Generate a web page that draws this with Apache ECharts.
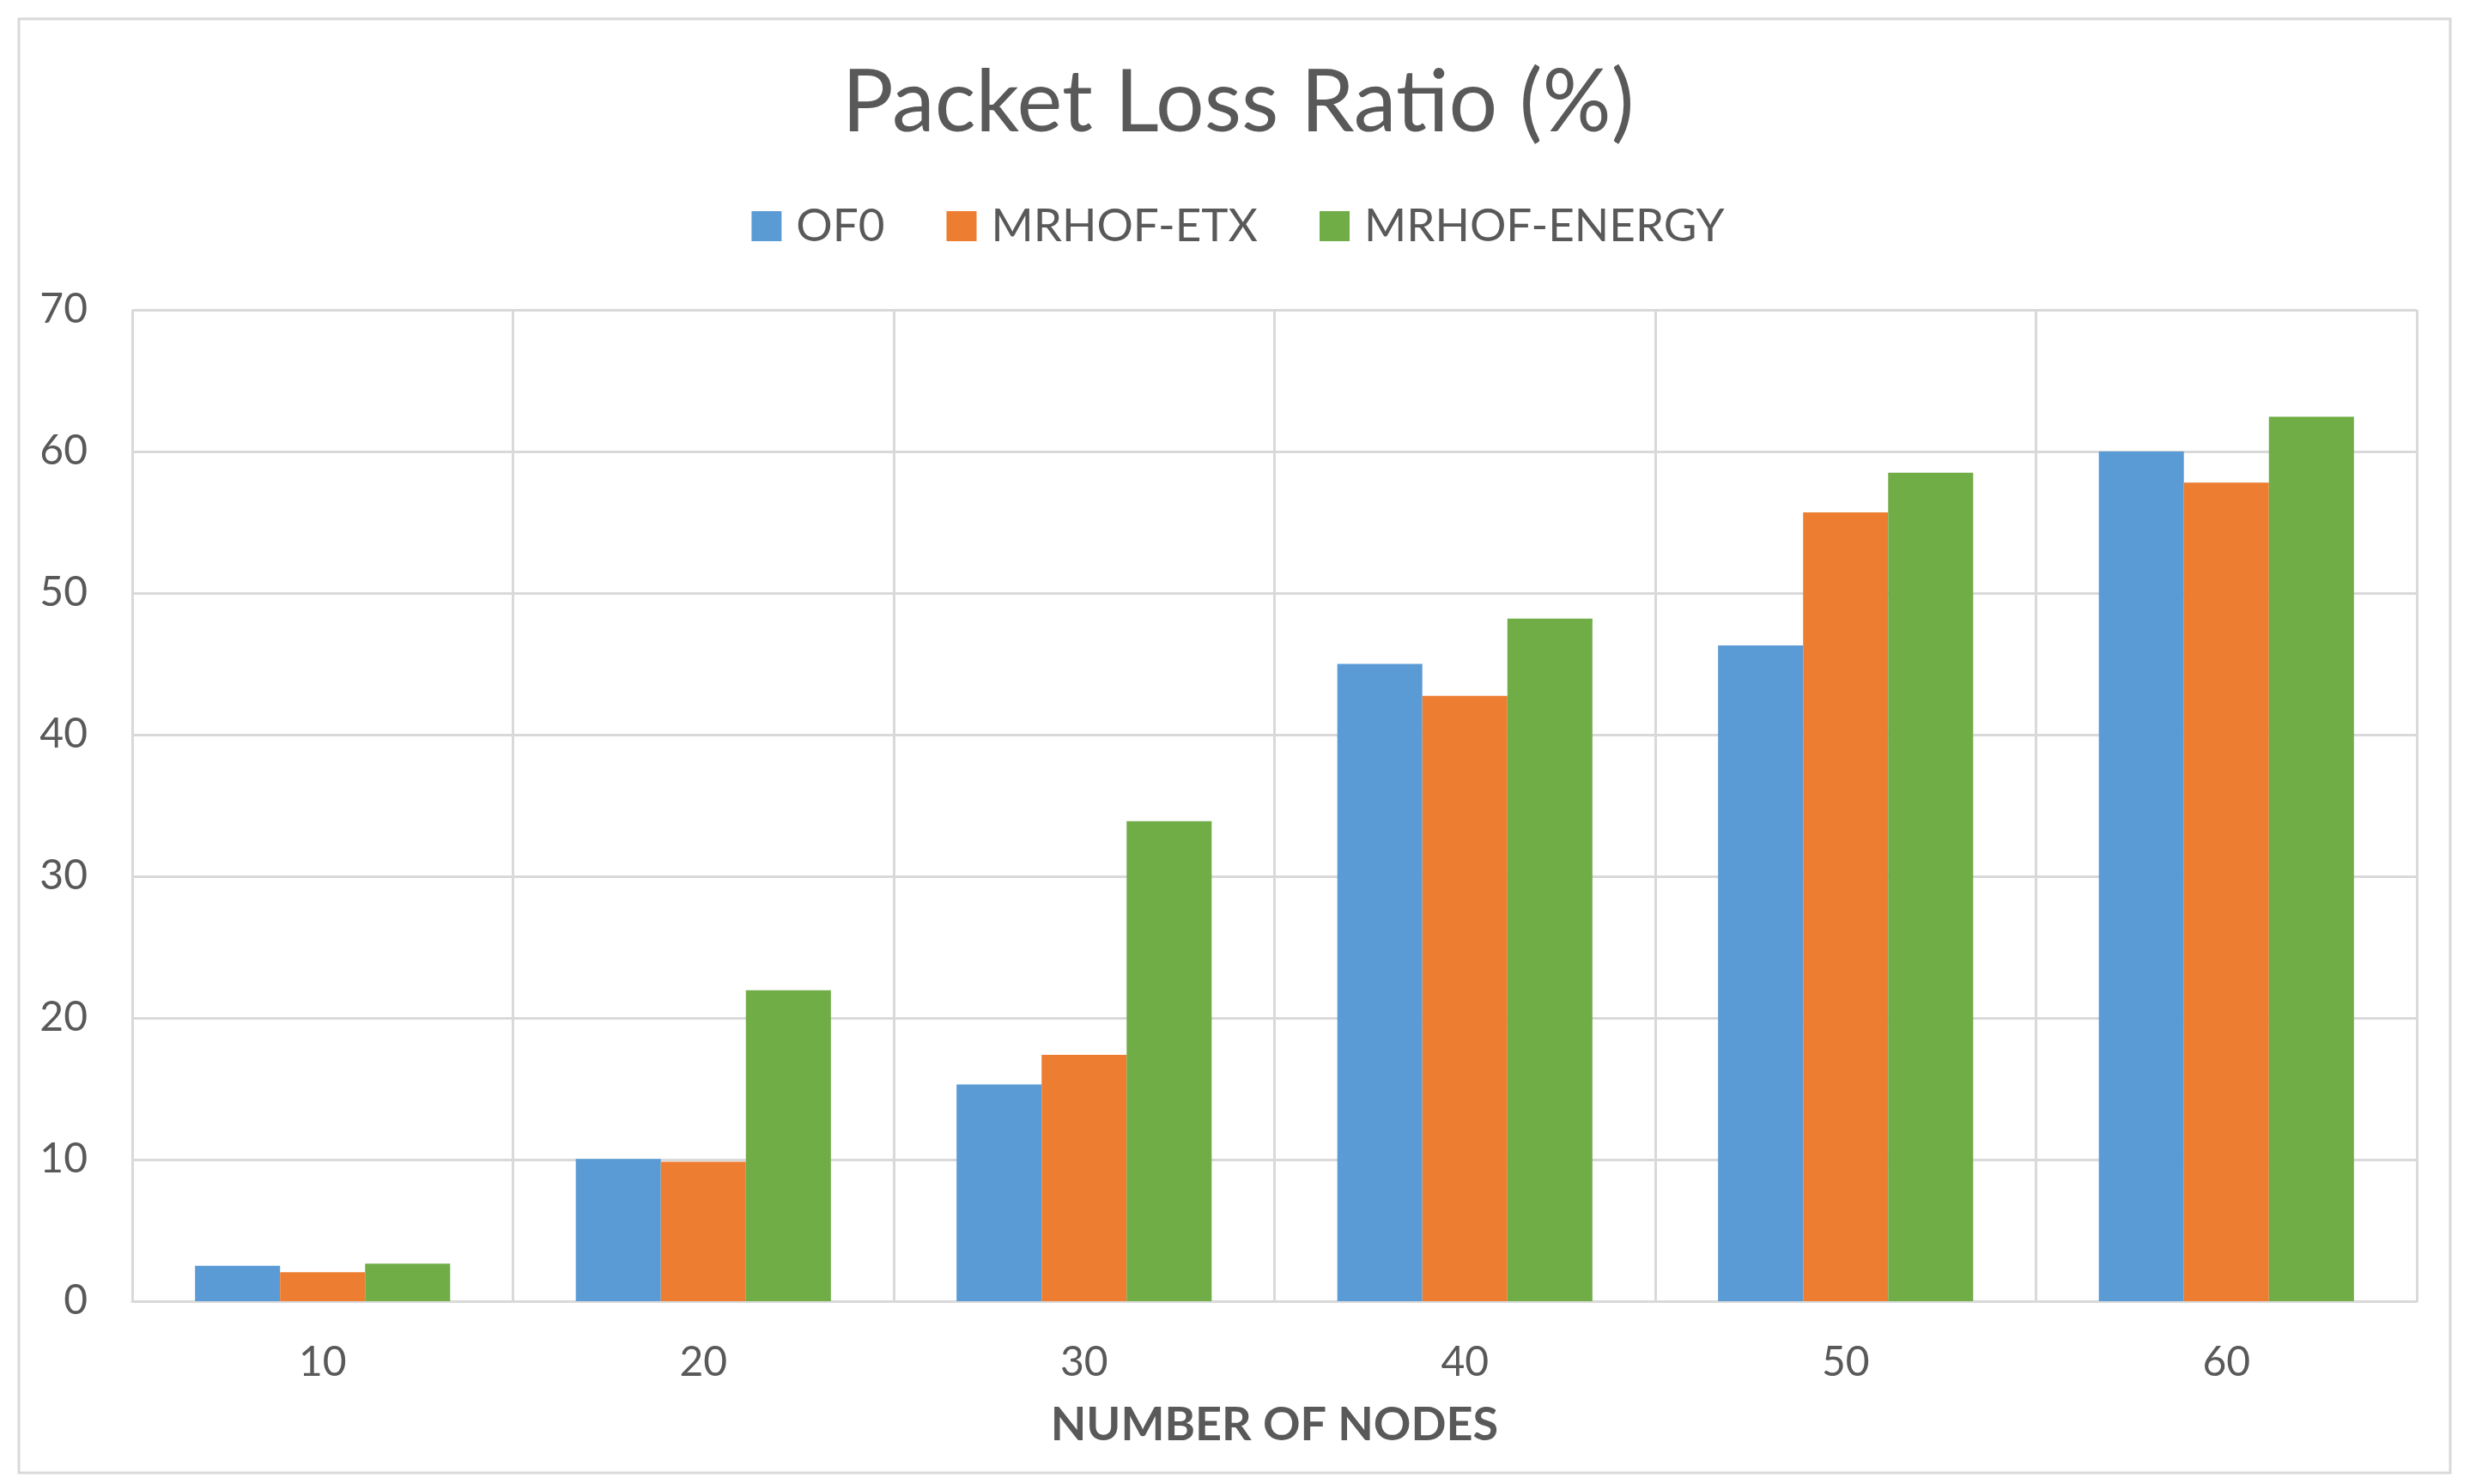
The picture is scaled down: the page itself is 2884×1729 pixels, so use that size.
<!DOCTYPE html>
<html>
<head>
<meta charset="utf-8">
<script src="https://cdn.jsdelivr.net/npm/echarts@6/dist/echarts.min.js"></script>
<style>
html,body{margin:0;padding:0;background:#fff;}
#chart{width:2884px;height:1729px;}
</style>
</head>
<body>
<div id="chart"></div>
<script>
const categories = ['10', '20', '30', '40', '50', '60'];
const seriesNames = ['OF0', 'MRHOF-ETX', 'MRHOF-ENERGY'];
const of0 = [2.5, 10.05, 15.3, 45.0, 46.3, 60.0];
const mrhofEtx = [2.05, 9.85, 17.4, 42.75, 55.7, 57.8];
const mrhofEnergy = [2.65, 21.95, 33.9, 48.2, 58.5, 62.45];
const yTicks = [0, 10, 20, 30, 40, 50, 60, 70];

const colors = ['#5B9BD5', '#ED7D31', '#70AD47'];
const textColor = '#595959';
const gridColor = '#D9D9D9';
const font = 'Lato';

const chart = echarts.init(document.getElementById('chart'));
const dataSets = [of0, mrhofEtx, mrhofEnergy];

chart.setOption({
  animation: false,
  backgroundColor: '#ffffff',
  color: colors,
  graphic: [{
    type: 'rect',
    shape: { x: 22, y: 22, width: 2832, height: 1694 },
    style: { fill: 'none', stroke: gridColor, lineWidth: 3 },
    silent: true
  }],
  title: {
    text: 'Packet Loss Ratio (%)',
    left: 'center',
    top: 66,
    textStyle: { fontFamily: font, fontSize: 100, fontWeight: 'normal', color: textColor }
  },
  legend: {
    top: 232,
    left: 'center',
    itemWidth: 35,
    itemHeight: 35,
    itemGap: 72,
    icon: 'rect',
    textStyle: { fontFamily: font, fontSize: 53, color: textColor, padding: [0, 0, 0, 12] },
    data: seriesNames
  },
  grid: { left: 154, right: 69, top: 361, bottom: 213, containLabel: false },
  xAxis: {
    type: 'category',
    data: categories,
    boundaryGap: true,
    name: 'NUMBER OF NODES',
    nameLocation: 'middle',
    nameGap: 118,
    nameTextStyle: { fontFamily: font, fontSize: 54, fontWeight: 'bold', color: textColor },
    axisLine: { show: true, lineStyle: { color: gridColor, width: 3 } },
    axisTick: { show: false },
    axisLabel: { fontFamily: font, fontSize: 48, color: textColor, margin: 48 },
    splitLine: { show: true, interval: 0, lineStyle: { color: gridColor, width: 3 } }
  },
  yAxis: {
    type: 'value',
    min: 0,
    max: 70,
    interval: 10,
    axisLine: { show: false },
    axisTick: { show: false },
    axisLabel: { fontFamily: font, fontSize: 48, color: textColor, margin: 52,
      formatter: v => yTicks.includes(v) ? String(v) : '' },
    splitLine: { show: true, lineStyle: { color: gridColor, width: 3 } }
  },
  series: seriesNames.map((name, i) => ({
    name: name,
    type: 'bar',
    data: dataSets[i],
    barGap: '0%',
    barCategoryGap: '33%',
    itemStyle: { color: colors[i] }
  }))
});
</script>
</body>
</html>
